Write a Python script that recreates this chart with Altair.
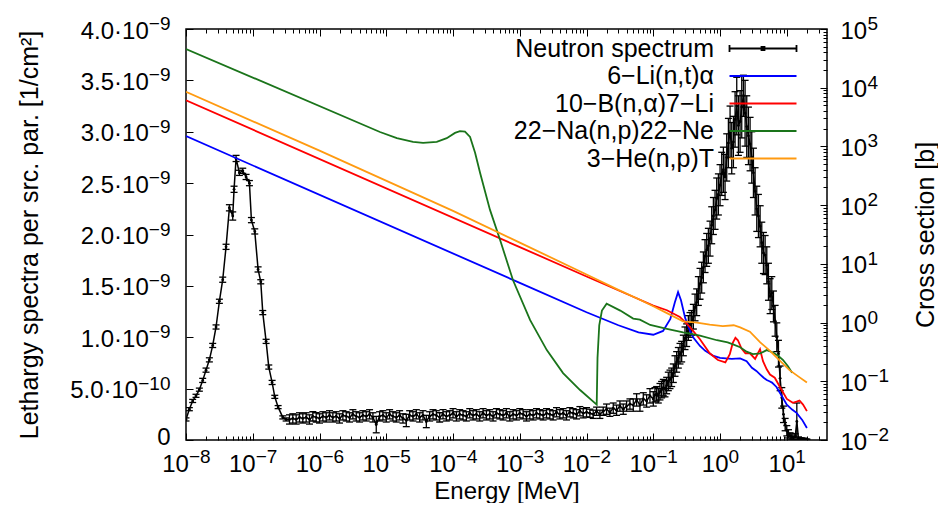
import altair as alt
import pandas as pd

# ---------------- Neutron lethargy spectrum ----------------
# log10(E / MeV), value in units of 1e-10 1/cm^2, error in the same units
th_log10E = [-8.00, -7.95, -7.90, -7.85, -7.80, -7.75, -7.70, -7.65, -7.60, -7.55, -7.50,
             -7.45, -7.40, -7.35, -7.30, -7.28, -7.25, -7.20, -7.15, -7.10, -7.05, -7.02,
             -6.97, -6.92, -6.88, -6.85, -6.80, -6.76, -6.71, -6.67, -6.62, -6.55, -6.50]
th_val = [2.0, 3.0, 3.8, 4.3, 4.9, 5.8, 6.8, 7.8, 9.2, 11.0, 13.5,
          15.6, 18.8, 22.6, 21.8, 24.4, 27.4, 26.0, 26.2, 25.6, 25.0, 21.4,
          20.3, 16.6, 15.4, 12.4, 9.6, 7.1, 5.6, 4.2, 3.2, 2.2, 2.0]
th_err = [0.15, 0.15, 0.15, 0.15, 0.15, 0.2, 0.2, 0.2, 0.2, 0.2, 0.2,
          0.25, 0.25, 0.3, 0.4, 0.3, 0.3, 0.25, 0.25, 0.25, 0.25, 0.25,
          0.25, 0.25, 0.2, 0.2, 0.2, 0.2, 0.2, 0.15, 0.15, 0.15, 0.15]

ep_log10E = [-6.45, -6.40, -6.35, -6.30, -6.25, -6.20, -6.15, -6.10, -6.05, -6.00,
             -5.95, -5.90, -5.85, -5.80, -5.75, -5.70, -5.65, -5.60, -5.55, -5.50,
             -5.45, -5.40, -5.35, -5.30, -5.25, -5.20, -5.15, -5.10, -5.05, -5.00,
             -4.95, -4.90, -4.85, -4.80, -4.75, -4.70, -4.65, -4.60, -4.55, -4.50,
             -4.45, -4.40, -4.35, -4.30, -4.25, -4.20, -4.15, -4.10, -4.05, -4.00,
             -3.95, -3.90, -3.85, -3.80, -3.75, -3.70, -3.65, -3.60, -3.55, -3.50,
             -3.45, -3.40, -3.35, -3.30, -3.25, -3.20, -3.15, -3.10, -3.05, -3.00,
             -2.95, -2.90, -2.85, -2.80, -2.75, -2.70, -2.65, -2.60, -2.55, -2.50,
             -2.45, -2.40, -2.35, -2.30, -2.25, -2.20, -2.15, -2.10, -2.05, -2.00]
ep_val = [2.0, 2.1, 2.0, 2.2, 2.1, 2.2, 2.0, 2.3, 2.2, 2.1,
          2.3, 2.2, 2.4, 2.2, 2.3, 2.1, 2.4, 2.3, 2.2, 2.5,
          2.3, 2.2, 2.4, 2.3, 2.5, 2.2, 1.5, 2.3, 2.4, 2.2,
          2.5, 2.3, 2.2, 2.4, 2.1, 1.9, 2.4, 2.3, 2.5, 2.2,
          2.4, 1.8, 2.3, 2.5, 2.4, 2.2, 2.5, 2.3, 2.4, 2.6,
          2.3, 2.5, 2.4, 2.3, 2.6, 2.4, 2.5, 2.3, 2.6, 2.4,
          2.5, 2.3, 2.6, 2.5, 2.4, 2.6, 2.3, 2.5, 2.4, 2.6,
          2.5, 2.3, 2.5, 2.4, 2.6, 2.5, 2.4, 2.6, 2.5, 2.4,
          2.7, 2.5, 2.6, 2.4, 2.7, 2.6, 2.5, 2.8, 2.6, 2.7]
ep_err = [0.45, 0.45, 0.45, 0.45, 0.45, 0.45, 0.45, 0.45, 0.45, 0.45,
          0.45, 0.45, 0.45, 0.45, 0.45, 0.45, 0.45, 0.45, 0.45, 0.45,
          0.45, 0.45, 0.45, 0.45, 0.45, 0.45, 0.8, 0.45, 0.45, 0.45,
          0.45, 0.45, 0.45, 0.45, 0.45, 0.6, 0.45, 0.45, 0.45, 0.45,
          0.45, 0.6, 0.45, 0.45, 0.45, 0.45, 0.45, 0.45, 0.45, 0.45,
          0.45, 0.45, 0.45, 0.45, 0.45, 0.45, 0.45, 0.45, 0.45, 0.45,
          0.45, 0.45, 0.45, 0.45, 0.45, 0.45, 0.45, 0.45, 0.45, 0.45,
          0.45, 0.45, 0.45, 0.45, 0.45, 0.45, 0.45, 0.45, 0.45, 0.45,
          0.45, 0.45, 0.45, 0.45, 0.45, 0.45, 0.45, 0.45, 0.45, 0.45]

fa_log10E = [-1.95, -1.90, -1.85, -1.80, -1.75, -1.70, -1.65, -1.60, -1.55, -1.50,
             -1.45, -1.40, -1.35, -1.30, -1.25, -1.20, -1.15, -1.10, -1.05,
             -1.000, -0.975, -0.950, -0.925, -0.900, -0.875, -0.850, -0.825, -0.800, -0.775,
             -0.750, -0.725, -0.700, -0.675, -0.650, -0.625, -0.600, -0.575, -0.550, -0.525,
             -0.500, -0.475, -0.450, -0.425, -0.400, -0.375, -0.350, -0.325, -0.300, -0.275,
             -0.250, -0.225, -0.200, -0.175, -0.150, -0.125, -0.100, -0.075, -0.050, -0.025,
             0.000, 0.025, 0.050, 0.075, 0.100, 0.125, 0.150, 0.175, 0.200, 0.225,
             0.250, 0.275, 0.300, 0.325, 0.350, 0.375, 0.400, 0.425, 0.450, 0.475,
             0.500, 0.525, 0.550, 0.575, 0.600, 0.625, 0.650, 0.675, 0.700, 0.725,
             0.750, 0.775, 0.800, 0.825, 0.850, 0.875, 0.900, 0.925, 0.950, 0.975,
             1.000, 1.025, 1.050, 1.075, 1.100, 1.125, 1.150, 1.175, 1.200, 1.225,
             1.250, 1.275, 1.300]
fa_val = [2.6, 2.5, 2.8, 2.5, 2.8, 3.0, 2.7, 3.1, 2.9, 3.3,
          3.0, 3.3, 3.5, 3.4, 3.9, 3.4, 4.0, 3.8, 4.3,
          4.0, 4.4, 4.5, 4.3, 4.7, 4.9, 5.1, 5.0, 5.3, 5.7,
          5.9, 6.1, 6.5, 7.2, 7.6, 8.0, 8.4, 8.6, 9.2, 9.9,
          10.2, 10.9, 11.2, 11.4, 12.0, 12.9, 13.4, 14.5, 15.2, 15.8,
          16.8, 17.9, 18.5, 18.9, 19.6, 20.9, 21.8, 22.4, 23.5, 23.9,
          24.8, 25.9, 26.3, 25.6, 27.5, 28.9, 30.0, 28.4, 29.0, 31.2,
          32.5, 30.6, 31.0, 32.4, 33.5, 31.8, 30.5, 29.6, 28.8, 27.5,
          26.0, 24.2, 22.5, 21.8, 20.8, 19.2, 18.2, 18.0, 17.0, 15.4,
          14.0, 14.3, 13.0, 11.6, 10.0, 8.4, 6.0, 4.1, 2.5, 1.5,
          0.9, 0.6, 0.4, 0.3, 0.2, 0.3, 1.8, 0.15, 0.1, 0.1,
          0.08, 0.05, 0.05]
fa_err = [0.4, 0.4, 0.4, 0.4, 0.4, 0.5, 0.4, 0.5, 0.5, 0.5,
          0.5, 0.5, 0.5, 0.6, 0.6, 0.6, 0.6, 0.6, 0.7,
          0.7, 0.7, 0.7, 0.7, 0.8, 0.8, 0.8, 0.8, 0.8, 0.9,
          0.9, 0.9, 0.9, 1.0, 1.0, 1.0, 1.0, 1.0, 1.0, 1.1,
          1.1, 1.2, 1.2, 1.2, 1.2, 1.3, 1.3, 1.4, 1.5, 1.5,
          1.5, 1.6, 1.6, 1.7, 1.7, 1.8, 1.8, 1.9, 2.0, 2.0,
          2.0, 2.1, 2.2, 2.2, 2.3, 2.4, 2.5, 2.5, 2.5, 2.7,
          2.8, 2.9, 3.0, 3.0, 2.0, 3.2, 3.0, 2.8, 2.6, 2.5,
          2.4, 2.3, 2.2, 2.1, 2.0, 2.0, 2.0, 1.9, 1.8, 1.8,
          1.7, 1.6, 1.5, 1.5, 1.4, 1.3, 1.2, 1.0, 0.8, 0.6,
          0.5, 0.4, 0.3, 0.3, 0.2, 0.3, 1.8, 0.15, 0.1, 0.1,
          0.1, 0.05, 0.05]

# ---------------- Cross sections [b] ----------------
li6_E = [1e-8, 1e-3, 1e-2, 3e-2, 6e-2, 0.1, 0.14, 0.18, 0.21, 0.235, 0.26, 0.3, 0.35, 0.4,
         0.5, 0.6, 0.8, 1.0, 1.5, 2.0, 2.5, 3.0, 3.5, 4.0, 4.5, 5.0, 5.5, 6.0, 7.0, 8.0,
         10.0, 12.0, 14.0, 17.0, 20.0]
li6_xs = [1500, 4.75, 1.5, 0.9, 0.68, 0.62, 0.72, 1.15, 2.2, 3.3, 2.4, 1.2, 0.75, 0.55,
          0.4, 0.33, 0.27, 0.25, 0.24, 0.245, 0.22, 0.17, 0.15, 0.13, 0.115, 0.105, 0.1, 0.095,
          0.08, 0.062, 0.04, 0.033, 0.029, 0.022, 0.016]

b10_E = [1e-8, 1e-3, 1e-2, 0.05, 0.1, 0.16, 0.25, 0.35, 0.5, 0.7, 0.93, 1.2, 1.4, 1.55,
         1.7, 1.85, 2.1, 2.4, 2.8, 3.35, 3.7, 3.97, 4.4, 5.0, 5.6, 6.6, 7.9, 10.0, 12.3,
         14.0, 15.5, 17.5, 20.0]
b10_xs = [6100, 19.3, 6.1, 2.75, 1.95, 1.62, 1.25, 0.85, 0.52, 0.3, 0.23, 0.21, 0.29, 0.45,
          0.55, 0.5, 0.36, 0.3, 0.3, 0.24, 0.3, 0.35, 0.22, 0.16, 0.13, 0.115, 0.08, 0.05, 0.043,
          0.045, 0.047, 0.04, 0.031]

na22_E = [1e-8, 8.05e-6, 1.44e-5, 2.52e-5, 3.56e-5, 5.7e-5, 8.05e-5, 1.07e-4, 1.27e-4,
          1.51e-4, 1.8e-4, 2.14e-4, 2.54e-4, 3.58e-4, 5.06e-4, 7.92e-4, 1.43e-3, 2.54e-3,
          4.45e-3, 8.0e-3, 1.42e-2, 1.46e-2, 1.55e-2, 1.7e-2, 2.0e-2, 3.2e-2, 5.0e-2, 6.3e-2,
          9.0e-2, 0.16, 0.28, 0.5, 0.9, 1.3, 1.6, 2.0, 2.5, 3.1, 4.0, 5.0, 6.2, 7.5, 8.8,
          10.4, 12.0]
na22_xs = [45700, 1760, 1380, 1200, 1150, 1200, 1380, 1700, 1820,
           1780, 1450, 780, 355, 83, 25.7, 5.25, 1.1, 0.34,
           0.138, 0.071, 0.04, 0.25, 0.9, 1.6, 2.1, 1.6, 1.17, 1.12,
           0.91, 0.78, 0.68, 0.6, 0.5, 0.46, 0.42, 0.38, 0.32, 0.29, 0.3, 0.34, 0.31, 0.27, 0.23,
           0.18, 0.14]

he3_E = [1e-8, 1e-6, 1e-4, 1e-3, 1e-2, 0.03, 0.063, 0.1, 0.16, 0.28, 0.45, 0.7, 1.1, 1.6,
         2.0, 2.8, 4.0, 5.6, 8.0, 11.0, 15.0, 20.0]
he3_xs = [8500, 850, 80, 23, 6.6, 3.6, 2.45, 1.9, 1.45, 1.05, 1.0, 0.92, 0.87, 0.9,
          0.83, 0.7, 0.46, 0.33, 0.22, 0.155, 0.12, 0.095]

series_names = ["Neutron spectrum", "6\u2212Li(n,t)\u03b1", "10\u2212B(n,\u03b1)7\u2212Li",
                "22\u2212Na(n,p)22\u2212Ne", "3\u2212He(n,p)T"]
series_colors = ["#000000", "#0000ff", "#ff0000", "#1a741a", "#ff9a10"]

# ---------------- Tick values and labels (mantissa + raised exponent) ----------------
x_major = [1e-8, 1e-7, 1e-6, 1e-5, 1e-4, 1e-3, 1e-2, 1e-1, 1e0, 1e1]
x_mant = ["10"] * 10
x_exp = ["\u22128", "\u22127", "\u22126", "\u22125", "\u22124", "\u22123", "\u22122", "\u22121", "0", "1"]
x_minor = [k * 10.0 ** e for e in range(-8, 2) for k in range(2, 10) if k * 10.0 ** e <= 30]

yl_values = [0, 5e-10, 1e-9, 1.5e-9, 2e-9, 2.5e-9, 3e-9, 3.5e-9, 4e-9]
yl_mant = ["0", "5.0\u00b710", "1.0\u00b710", "1.5\u00b710", "2.0\u00b710", "2.5\u00b710",
           "3.0\u00b710", "3.5\u00b710", "4.0\u00b710"]
yl_exp = ["", "\u221210", "\u22129", "\u22129", "\u22129", "\u22129", "\u22129", "\u22129", "\u22129"]

yr_major = [1e-2, 1e-1, 1e0, 1e1, 1e2, 1e3, 1e4, 1e5]
yr_mant = ["10"] * 8
yr_exp = ["\u22122", "\u22121", "0", "1", "2", "3", "4", "5"]
yr_minor = [k * 10.0 ** e for e in range(-2, 5) for k in range(2, 10)]

# ---------------- Tables ----------------
log10E = th_log10E + ep_log10E + fa_log10E
vals = th_val + ep_val + fa_val
errs = th_err + ep_err + fa_err
spec = pd.DataFrame({
    "E": [10.0 ** v for v in log10E],
    "phi": [v * 1e-10 for v in vals],
    "lo": [max(v - e, 0.0) * 1e-10 for v, e in zip(vals, errs)],
    "hi": [(v + e) * 1e-10 for v, e in zip(vals, errs)],
})
li6 = pd.DataFrame({"E": li6_E, "xs": li6_xs})
b10 = pd.DataFrame({"E": b10_E, "xs": b10_xs})
na22 = pd.DataFrame({"E": na22_E, "xs": na22_xs})
he3 = pd.DataFrame({"E": he3_E, "xs": he3_xs})
leg = pd.DataFrame({"series": series_names})

# ---------------- Layout / styling ----------------
W, H = 641, 411
FONT = "Liberation Sans"
FS = 24      # tick label mantissa
FE = 19      # tick label exponent
FT = 25      # vertical axis titles and legend
FB = 24      # bottom axis title

xs_scale = alt.Scale(type="log", domain=[1e-8, 40], nice=False)
yl_scale = alt.Scale(type="linear", domain=[0, 4e-9], nice=False, zero=False)
yr_scale = alt.Scale(type="log", domain=[1e-2, 1e5], nice=False)

is_major = "abs(log(datum.value)/LN10 - round(log(datum.value)/LN10)) < 0.01"
log_tick = {"condition": {"test": is_major, "value": 7}, "value": 4}
x_shift = {"condition": {"test": "datum.value > 0.5", "value": 8}, "value": 2.4}
yl_pad = {"condition": [{"test": "datum.value < 1e-12", "value": 16},
                        {"test": "datum.value < 7e-10", "value": 48.3}], "value": 37.7}
yl_off = {"condition": {"test": "datum.value < 1e-12", "value": 4}, "value": 9}

def js_list(lst):
    return "[" + ",".join("'" + s + "'" for s in lst) + "]"

x_idx = "[round(log(datum.value)/LN10)+8]"
yl_idx = "[round(datum.value/5e-10)]"
yr_idx = "[round(log(datum.value)/LN10)+2]"

common = dict(ticks=False, tickSize=0, domain=False, grid=False, labelFont=FONT,
              labelColor="black", labelFlush=False, labelOverlap=False)

ax_bottom_mant = alt.Axis(
    orient="bottom", values=x_major, labelExpr=js_list(x_mant) + x_idx,
    labelFontSize=FS, labelAlign="right", labelBaseline="alphabetic",
    labelPadding=31, labelOffset=x_shift,
    title="Energy [MeV]", titleFont=FONT, titleFontSize=FB, titleFontWeight="normal",
    titleColor="black", titleX=W / 2, titleY=58.5, titleAngle=0, titleAlign="center",
    titleBaseline="alphabetic", **common)
ax_bottom_exp = alt.Axis(
    orient="bottom", values=x_major, labelExpr=js_list(x_exp) + x_idx,
    labelFontSize=FE, labelAlign="left", labelBaseline="alphabetic",
    labelPadding=22.5, labelOffset=x_shift, title=None, **common)
ax_bottom_ticks = alt.Axis(
    orient="top", offset=-H, values=x_major + x_minor, labels=False, domain=False, grid=False,
    tickSize=log_tick, tickColor="black", tickWidth=1, title=None)
ax_top_ticks = alt.Axis(
    orient="bottom", offset=-H, values=x_major + x_minor, labels=False, domain=False, grid=False,
    tickSize=log_tick, tickColor="black", tickWidth=1, title=None)

ax_left_mant = alt.Axis(
    orient="left", values=yl_values, labelExpr=js_list(yl_mant) + yl_idx,
    labelFontSize=FS, labelAlign="right", labelBaseline="alphabetic",
    labelPadding=yl_pad, labelOffset=yl_off,
    title="Lethargy spectra per src. par. [1/cm\u00b2]", titleFont=FONT, titleFontSize=FT,
    titleFontWeight="normal", titleColor="black", titleX=-149, titleY=H / 2, titleAngle=270,
    titleAlign="center", titleBaseline="alphabetic", **common)
ax_left_exp = alt.Axis(
    orient="left", values=yl_values, labelExpr=js_list(yl_exp) + yl_idx,
    labelFontSize=FE, labelAlign="right", labelBaseline="alphabetic",
    labelPadding=16, labelOffset=0.5, title=None, **common)
ax_left_ticks = alt.Axis(
    orient="right", offset=-W, values=yl_values, labels=False, domain=False, grid=False,
    tickSize=7, tickColor="black", tickWidth=1, title=None)

ax_right_mant = alt.Axis(
    orient="right", values=yr_major, labelExpr=js_list(yr_mant) + yr_idx,
    labelFontSize=FS, labelAlign="left", labelBaseline="alphabetic",
    labelPadding=13, labelOffset=9,
    title="Cross section [b]", titleFont=FONT, titleFontSize=FT, titleFontWeight="normal",
    titleColor="black", titleX=106, titleY=H / 2, titleAngle=270, titleAlign="center",
    titleBaseline="alphabetic", **common)
ax_right_exp = alt.Axis(
    orient="right", values=yr_major, labelExpr=js_list(yr_exp) + yr_idx,
    labelFontSize=FE, labelAlign="left", labelBaseline="alphabetic",
    labelPadding=40, labelOffset=0.5, title=None, **common)
ax_right_ticks = alt.Axis(
    orient="left", offset=-W, values=yr_major + yr_minor, labels=False, domain=False, grid=False,
    tickSize=log_tick, tickColor="black", tickWidth=1, title=None)

def X(axis):
    return alt.X("E:Q", scale=xs_scale, axis=axis)

base = alt.Chart(spec)
spec_line = base.mark_line(color="black", strokeWidth=1.5, clip=True).encode(
    x=X(ax_bottom_mant), y=alt.Y("phi:Q", scale=yl_scale, axis=ax_left_mant))
spec_err = base.mark_rule(color="black", strokeWidth=1.3, clip=True).encode(
    x=X(ax_bottom_ticks), y=alt.Y("lo:Q", scale=yl_scale, axis=ax_left_ticks), y2="hi:Q")
cap_lo = base.mark_tick(color="black", orient="horizontal", size=7, thickness=1.3,
                        opacity=1, clip=True).encode(
    x=X(ax_bottom_exp), y=alt.Y("lo:Q", scale=yl_scale, axis=ax_left_exp))
cap_hi = base.mark_tick(color="black", orient="horizontal", size=7, thickness=1.3,
                        opacity=1, clip=True).encode(
    x=X(None), y=alt.Y("hi:Q", scale=yl_scale, axis=None))
spec_pts = base.mark_circle(color="black", size=8, opacity=1, clip=True).encode(
    x=X(None), y=alt.Y("phi:Q", scale=yl_scale, axis=None))

def xs_line(df, color, xaxis, yaxis):
    return alt.Chart(df).mark_line(color=color, strokeWidth=1.8, clip=True).encode(
        x=X(xaxis), y=alt.Y("xs:Q", scale=yr_scale, axis=yaxis))

l_li6 = xs_line(li6, series_colors[1], ax_top_ticks, ax_right_mant)
l_b10 = xs_line(b10, series_colors[2], None, ax_right_ticks)
l_na22 = xs_line(na22, series_colors[3], None, ax_right_exp)
l_he3 = xs_line(he3, series_colors[4], None, None)

# legend symbols: sample drawn to the right of the right-aligned label
shape_paths = [
    "M5.6,0H19M5.6,-0.7V0.7M19,-0.7V0.7M12.0,-0.3H12.6V0.3H12.0Z",
    "M5.6,0H19", "M5.6,0H19", "M5.6,0H19", "M5.6,0H19",
]
legend = alt.Legend(
    orient="none", legendX=503, legendY=7, direction="vertical", columns=1, title=None,
    labelFont=FONT, labelFontSize=FT, labelColor="black", labelAlign="right",
    labelBaseline="middle", labelOffset=0, labelLimit=600, symbolSize=100,
    symbolStrokeWidth=1.8, symbolOffset=0, symbolOpacity=1, rowPadding=1.5, padding=0)
legend_layer = alt.Chart(leg).mark_point(filled=False, strokeWidth=1.8, opacity=1).encode(
    color=alt.Color("series:N", scale=alt.Scale(domain=series_names, range=series_colors),
                    legend=legend, sort=series_names),
    shape=alt.Shape("series:N", scale=alt.Scale(domain=series_names, range=shape_paths),
                    legend=legend, sort=series_names),
).transform_filter("false")

chart = alt.layer(
    spec_line, spec_err, cap_lo, cap_hi, spec_pts, l_li6, l_b10, l_na22, l_he3, legend_layer
).resolve_scale(
    y="independent"
).resolve_axis(
    x="independent", y="independent"
).properties(
    width=W, height=H,
    autosize=alt.AutoSizeParams(type="none"),
    padding={"left": 178, "top": 21, "right": 111, "bottom": 63},
    background="white",
).configure_view(stroke="black", strokeWidth=1.5)

chart.save("out.html", embed_options={"renderer": "svg", "actions": False})
